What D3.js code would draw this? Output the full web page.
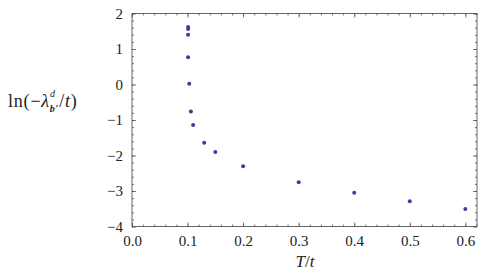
<!DOCTYPE html>
<html><head><meta charset="utf-8">
<script src="https://cdn.jsdelivr.net/npm/d3@7"></script>
<style>body{margin:0;background:#fff}svg{display:block}
text{font-family:"Liberation Serif","Times New Roman",Times,Tinos,"DejaVu Serif","Noto Serif",serif !important}</style>
</head><body>
<script>
const xValues = [0.101, 0.101, 0.101, 0.101, 0.103, 0.106, 0.110, 0.130, 0.150, 0.2, 0.3, 0.4, 0.5, 0.6];
const yValues = [1.62, 1.56, 1.40, 0.77, 0.02, -0.76, -1.14, -1.64, -1.90, -2.30, -2.75, -3.05, -3.29, -3.51];
const xTicks = [0, 0.1, 0.2, 0.3, 0.4, 0.5, 0.6];
const xTickLabels = ["0.0", "0.1", "0.2", "0.3", "0.4", "0.5", "0.6"];
const yTicks = [-4, -3, -2, -1, 0, 1, 2];
const yTickLabels = ["\u22124", "\u22123", "\u22122", "\u22121", "0", "1", "2"];

const W = 491, H = 277;
const L = 132, R = 477, T = 13.5, B = 226.5;
const svg = d3.select("body").append("svg").attr("width", W).attr("height", H);
const x = d3.scaleLinear().domain([0, 0.621]).range([L, R]);
const y = d3.scaleLinear().domain([-4, 2]).range([B, T]);
const axisColor = "#555";

const xMinor = d3.range(0, 0.621, 0.02).map(v => +v.toFixed(2));
const yMinor = d3.range(-4, 2.001, 0.2).map(v => +v.toFixed(1));

function style(g) {
  g.select(".domain").remove();
  g.attr("font-family", null);
  g.selectAll("line").attr("stroke", axisColor).attr("stroke-width", 0.8);
  g.selectAll("text").attr("font-size", 15).attr("fill", "#222");
}
svg.append("g").attr("transform", `translate(0,${B})`)
  .call(d3.axisBottom(x).tickValues(xMinor).tickSize(-2).tickFormat("")).call(style);
svg.append("g").attr("transform", `translate(0,${B})`)
  .call(d3.axisBottom(x).tickValues(xTicks).tickSize(-4).tickPadding(9)
    .tickFormat((d, i) => xTickLabels[i])).call(style);
svg.append("g").attr("transform", `translate(0,${T})`)
  .call(d3.axisTop(x).tickValues(xMinor).tickSize(-2).tickFormat("")).call(style);
svg.append("g").attr("transform", `translate(0,${T})`)
  .call(d3.axisTop(x).tickValues(xTicks).tickSize(-4).tickFormat("")).call(style);
svg.append("g").attr("transform", `translate(${L},0)`)
  .call(d3.axisLeft(y).tickValues(yMinor).tickSize(-2).tickFormat("")).call(style);
svg.append("g").attr("transform", `translate(${L},0)`)
  .call(d3.axisLeft(y).tickValues(yTicks).tickSize(-4).tickPadding(9)
    .tickFormat((d, i) => yTickLabels[i])).call(style);
svg.append("g").attr("transform", `translate(${R},0)`)
  .call(d3.axisRight(y).tickValues(yMinor).tickSize(-2).tickFormat("")).call(style);
svg.append("g").attr("transform", `translate(${R},0)`)
  .call(d3.axisRight(y).tickValues(yTicks).tickSize(-4).tickFormat("")).call(style);

svg.append("rect").attr("x", L).attr("y", T).attr("width", R - L).attr("height", B - T)
  .attr("fill", "none").attr("stroke", axisColor).attr("stroke-width", 0.9);

svg.append("g").selectAll("circle").data(xValues).join("circle")
  .attr("cx", d => x(d)).attr("cy", (d, i) => y(yValues[i])).attr("r", 2)
  .attr("fill", "#3c3c9e");

const xl = svg.append("text").attr("x", 305).attr("y", 267).attr("text-anchor", "middle")
  .attr("font-size", 17).attr("fill", "#222");
xl.append("tspan").attr("font-style", "italic").text("T");
xl.append("tspan").text("/");
xl.append("tspan").attr("font-style", "italic").text("t");

const yl = svg.append("text").attr("x", 8).attr("y", 107)
  .attr("font-size", 18).attr("letter-spacing", 0.8).attr("fill", "#222");
yl.append("tspan").text("ln(\u2212");
yl.append("tspan").attr("font-style", "italic").text("\u03bb");
yl.append("tspan").attr("font-style", "italic").attr("font-size", 10).attr("dy", -10).text("d");
yl.append("tspan").attr("font-weight", "bold").attr("font-style", "italic").attr("font-size", 10).attr("dx", -6).attr("dy", 15).text("b\u2032");
yl.append("tspan").attr("dy", -5).text("/");
yl.append("tspan").attr("font-style", "italic").text("t");
yl.append("tspan").text(")");
</script>
</body></html>
